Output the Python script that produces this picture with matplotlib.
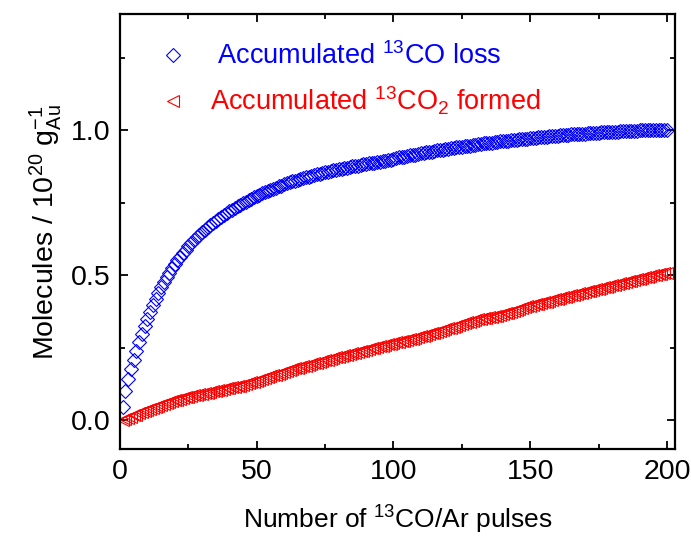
import matplotlib
matplotlib.use("Agg")
import matplotlib.pyplot as plt

# pulse number (1..200)
pulses = list(range(1, 201))

# accumulated 13CO loss, 10^20 molecules / g_Au
co_loss = [
    0.046, 0.100, 0.140, 0.175, 0.208, 0.240, 0.270, 0.298, 0.325, 0.350,
    0.374, 0.397, 0.419, 0.440, 0.460, 0.477, 0.493, 0.509, 0.524, 0.538,
    0.551, 0.564, 0.576, 0.588, 0.599, 0.610, 0.620, 0.630, 0.639, 0.648,
    0.657, 0.665, 0.673, 0.681, 0.688, 0.695, 0.702, 0.708, 0.714, 0.720,
    0.726, 0.731, 0.737, 0.742, 0.748, 0.753, 0.758, 0.763, 0.768, 0.773,
    0.777, 0.782, 0.786, 0.790, 0.794, 0.798, 0.802, 0.806, 0.809, 0.813,
    0.816, 0.820, 0.823, 0.826, 0.829, 0.832, 0.835, 0.838, 0.840, 0.843,
    0.845, 0.848, 0.850, 0.852, 0.855, 0.857, 0.859, 0.861, 0.863, 0.865,
    0.867, 0.869, 0.871, 0.873, 0.875, 0.877, 0.878, 0.880, 0.882, 0.883,
    0.885, 0.887, 0.888, 0.890, 0.891, 0.893, 0.894, 0.896, 0.897, 0.899,
    0.904, 0.906, 0.908, 0.909, 0.911, 0.913, 0.915, 0.916, 0.918, 0.920,
    0.921, 0.923, 0.925, 0.926, 0.928, 0.930, 0.931, 0.933, 0.934, 0.936,
    0.938, 0.939, 0.941, 0.942, 0.943, 0.945, 0.946, 0.947, 0.949, 0.950,
    0.951, 0.952, 0.954, 0.955, 0.956, 0.957, 0.958, 0.960, 0.961, 0.962,
    0.963, 0.964, 0.965, 0.966, 0.967, 0.968, 0.969, 0.970, 0.971, 0.972,
    0.973, 0.974, 0.975, 0.976, 0.977, 0.978, 0.979, 0.979, 0.980, 0.981,
    0.982, 0.983, 0.983, 0.984, 0.985, 0.986, 0.986, 0.987, 0.988, 0.988,
    0.989, 0.990, 0.990, 0.991, 0.991, 0.992, 0.993, 0.993, 0.994, 0.994,
    0.995, 0.995, 0.996, 0.996, 0.997, 0.997, 0.998, 0.998, 0.998, 0.999,
    0.999, 0.999, 1.000, 1.000, 1.000, 1.000, 1.000, 1.000, 1.000, 1.000,
]

# accumulated 13CO2 formed, 10^20 molecules / g_Au
co2_formed = [
    0.000, 0.004, 0.008, 0.012, 0.016, 0.019, 0.023, 0.027, 0.030, 0.034,
    0.037, 0.041, 0.044, 0.048, 0.051, 0.054, 0.058, 0.061, 0.065, 0.068,
    0.071, 0.074, 0.076, 0.079, 0.081, 0.083, 0.085, 0.087, 0.089, 0.091,
    0.093, 0.095, 0.097, 0.099, 0.101, 0.103, 0.105, 0.107, 0.109, 0.111,
    0.113, 0.115, 0.117, 0.119, 0.121, 0.124, 0.127, 0.130, 0.133, 0.136,
    0.139, 0.142, 0.145, 0.148, 0.151, 0.154, 0.157, 0.160, 0.163, 0.166,
    0.169, 0.172, 0.175, 0.178, 0.181, 0.183, 0.186, 0.188, 0.191, 0.193,
    0.196, 0.198, 0.201, 0.203, 0.206, 0.208, 0.211, 0.213, 0.216, 0.218,
    0.221, 0.223, 0.226, 0.228, 0.230, 0.233, 0.235, 0.237, 0.240, 0.242,
    0.244, 0.247, 0.249, 0.251, 0.254, 0.256, 0.258, 0.261, 0.263, 0.265,
    0.268, 0.270, 0.272, 0.274, 0.276, 0.278, 0.281, 0.283, 0.286, 0.289,
    0.291, 0.294, 0.297, 0.299, 0.302, 0.305, 0.308, 0.310, 0.313, 0.316,
    0.319, 0.322, 0.325, 0.328, 0.331, 0.334, 0.337, 0.340, 0.343, 0.346,
    0.349, 0.350, 0.352, 0.353, 0.355, 0.357, 0.358, 0.360, 0.362, 0.365,
    0.368, 0.371, 0.374, 0.377, 0.380, 0.383, 0.386, 0.389, 0.392, 0.394,
    0.397, 0.399, 0.402, 0.404, 0.406, 0.409, 0.411, 0.413, 0.416, 0.418,
    0.420, 0.423, 0.425, 0.427, 0.430, 0.432, 0.435, 0.437, 0.439, 0.442,
    0.444, 0.446, 0.449, 0.451, 0.453, 0.456, 0.458, 0.460, 0.463, 0.465,
    0.467, 0.470, 0.472, 0.474, 0.477, 0.479, 0.481, 0.483, 0.486, 0.488,
    0.490, 0.492, 0.494, 0.497, 0.499, 0.501, 0.503, 0.505, 0.507, 0.509,
]

x_ticks = [0, 50, 100, 150, 200]
y_ticks = [0.0, 0.5, 1.0]


def main():
    plt.rcParams["font.family"] = "Liberation Sans"
    plt.rcParams["mathtext.fontset"] = "custom"
    plt.rcParams["mathtext.rm"] = "Liberation Sans"
    plt.rcParams["mathtext.it"] = "Liberation Sans:italic"

    fig = plt.figure(figsize=(6.91, 5.45), dpi=100)
    ax = fig.add_axes([0.1737, 0.176, 0.8033, 0.798])

    ax.plot(pulses, co_loss, ls="none", marker="D", ms=7, mfc="none",
            mec="blue", mew=0.8, label=r" Accumulated $^{13}$CO loss")
    ax.plot(pulses, co2_formed, ls="none", marker="<", ms=8, mfc="none",
            mec="red", mew=0.8, label=r"Accumulated $^{13}$CO$_2$ formed")

    ax.set_xlim(0, 203)
    ax.set_ylim(-0.1, 1.4)
    ax.set_xticks(x_ticks)
    ax.set_yticks(y_ticks)
    ax.set_xticks([25, 75, 125, 175], minor=True)
    ax.set_yticks([0.25, 0.75, 1.25], minor=True)
    ax.set_yticklabels(["0.0", "0.5", "1.0"])
    ax.tick_params(which="both", direction="in", top=True, right=True,
                   width=1.3, labelsize=20.5, pad=7)
    ax.tick_params(which="major", length=5.5)
    ax.tick_params(which="minor", length=3.5)
    for s in ax.spines.values():
        s.set_linewidth(1.6)

    ax.set_xlabel(r"Number of $^{13}$CO/Ar pulses", fontsize=19, labelpad=14)
    ax.set_ylabel(r"Molecules / 10$^{20}$ g$_{\mathrm{Au}}^{-1}$",
                  fontsize=20.5, labelpad=5)

    ax.legend(loc="upper left", bbox_to_anchor=(0.047, 0.935), frameon=False,
              fontsize=19.5, labelcolor=["blue", "red"], handlelength=2.0,
              handletextpad=0.35, labelspacing=0.55, borderpad=0,
              borderaxespad=0)

    fig.savefig("out.png", dpi=100)


if __name__ == "__main__":
    main()
